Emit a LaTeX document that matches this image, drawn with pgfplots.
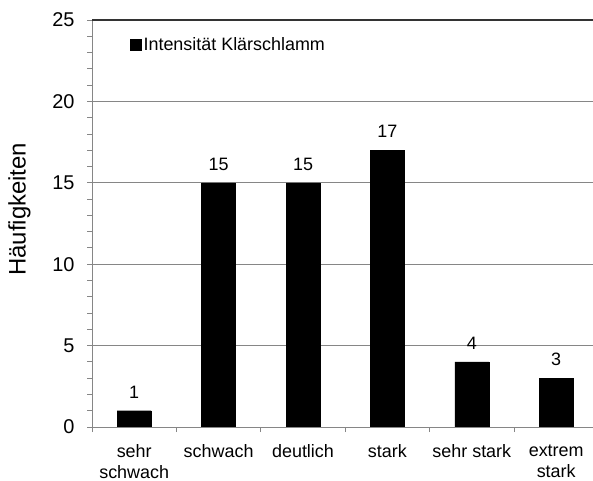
\documentclass[border=0pt]{standalone}
\usepackage{fontspec}
\setmainfont{Liberation Sans}
\usepackage{pgfplots}
\pgfplotsset{compat=1.18}
\definecolor{gridgray}{RGB}{134,134,134}
\begin{document}
\begin{tikzpicture}
\useasboundingbox (0,0) rectangle (593bp,481bp);
\begin{axis}[
  at={(92bp,54bp)}, anchor=south west,
  scale only axis, width=501bp, height=407bp,
  xmin=-0.5, xmax=5.436, ymin=0, ymax=25,
  axis lines*=left,
  axis line style={draw=gridgray, line width=0.9bp, -},
  ybar, bar width=34bp,
  ytick={0,5,...,25}, minor y tick num=4,
  xtick={0,...,5},
  xticklabels={{sehr\\schwach},schwach,deutlich,stark,sehr stark,{extrem\\stark}},
  minor xtick={-0.5,0.5,1.5,2.5,3.5,4.5},
  major x tick style={draw=none},
  tick align=outside, major tick length=5bp, minor tick length=5bp,
  tick style={gridgray, line width=0.9bp},
  ymajorgrids, grid style={gridgray, line width=0.9bp},
  extra y ticks={25}, extra y tick labels={},
  extra y tick style={major grid style={black!80, line width=1.3bp}},
  /pgf/number format/assume math mode=true,
  yticklabel style={font=\fontsize{20}{24}\selectfont, xshift=-9bp},
  xticklabel style={align=center, font=\fontsize{18}{21}\selectfont, yshift=-9bp},
  nodes near coords,
  every node near coord/.append style={font=\fontsize{18}{22}\selectfont, yshift=9bp, black},
  ylabel={Häufigkeiten},
  ylabel style={at={(axis description cs:-0.1677,0.535)}, anchor=north, inner sep=0pt, font=\fontsize{24}{28}\selectfont},
  legend style={draw=none, fill=none, at={(axis description cs:0.0758,0.9386)}, anchor=west, inner sep=0pt, font=\fontsize{18}{22}\selectfont,
    /tikz/every even column/.append style={column sep=2bp}},
  legend image code/.code={\fill[black] (0bp,-5.5bp) rectangle (11bp,5.5bp);},
]
\addplot[fill=black, draw=black] coordinates {(0,1) (1,15) (2,15) (3,17) (4,4) (5,3)};
\addlegendentry{Intensität Klärschlamm}
\end{axis}
\end{tikzpicture}
\end{document}
